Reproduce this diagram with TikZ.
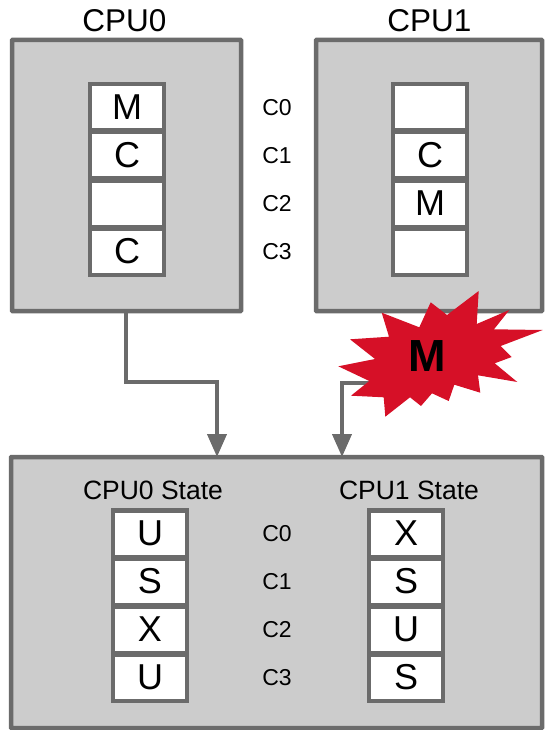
\documentclass[tikz,border=0pt]{standalone}
\usepackage{fontspec}
\setmainfont{Liberation Sans}
\usetikzlibrary{arrows.meta,calc}
\definecolor{edgegray}{HTML}{6B6B6B}
\definecolor{panelgray}{HTML}{CCCCCC}
\definecolor{burstred}{HTML}{D61027}
\tikzset{
  panel/.style={draw=edgegray,fill=panelgray,line width=4.5pt,rounded corners=0.5pt},
  cellbox/.style={draw=edgegray,fill=white,line width=4.5pt,minimum width=74pt,minimum height=46.5pt,inner sep=0pt,font=\fontsize{36}{36}\selectfont},
  rowlab/.style={inner sep=0pt,font=\fontsize{23}{23}\selectfont},
  title/.style={inner sep=0pt,font=\fontsize{31.5}{31.5}\selectfont},
  statetitle/.style={inner sep=0pt,font=\fontsize{26.5}{26.5}\selectfont},
  wire/.style={draw=edgegray,line width=4pt},
  arrowwire/.style={wire,-{Triangle[length=23pt,width=19pt]}}
}
\begin{document}
\begin{tikzpicture}[x=1pt,y=-1pt]
\useasboundingbox (0,0) rectangle (553,730);
\node[panel,minimum width=229pt,minimum height=271pt,inner sep=0pt] (cpu0) at (126.5,175.5) {};
\node[panel,minimum width=226pt,minimum height=271pt,inner sep=0pt] (cpu1) at (429,175.5) {};
\node[panel,minimum width=531pt,minimum height=271pt,inner sep=0pt] (sys) at (276.5,592.5) {};
\node[title] (t0) at (124.5,21) {CPU0};
\node[title] (t1) at (429.5,21) {CPU1};
\foreach \n/\y/\a/\b in {0/107.5/M/,1/155.5/C/C,2/203.5//M,3/251.5/C/}{
  \node[cellbox] (a\n) at (127,\y) {\a};
  \node[cellbox] (b\n) at (430,\y) {\b};
  \node[rowlab] (r\n) at (277,\y) {C\n};
}
\node[statetitle] (s0) at (153,490) {CPU0 State};
\node[statetitle] (s1) at (409,490) {CPU1 State};
\foreach \n/\y/\a/\b in {0/533.5/U/X,1/581.5/S/S,2/629.5/X/U,3/677.5/U/S}{
  \node[cellbox] (c\n) at (150,\y) {\a};
  \node[cellbox] (d\n) at (406,\y) {\b};
  \node[rowlab] (q\n) at (277,\y) {C\n};
}
\coordinate (burst) at (428,383);
\coordinate (tl) at (217,457);
\coordinate (tr) at (342,457);
\draw[arrowwire] (cpu0.south -| 126,0) -- (126,382) -- (217,382) -- (tl);
\draw[arrowwire] (burst) -- (342,383) -- (tr);
\fill[burstred] (478.7,291) -- (476.7,324) -- (509.3,310) -- (494,329.3) -- (542.7,330) -- (500.7,346) -- (511.7,357) -- (494.7,363.3) -- (517.3,382) -- (478,375.3) -- (480.3,392.7) -- (454.3,384.7) -- (448.7,401) -- (432,393.3) -- (421,406) -- (410,397.3) -- (385.3,416.7) -- (383.7,397.3) -- (351,395.7) -- (369.3,381) -- (338.3,366.3) -- (375,359) -- (350,339.3) -- (389,336.7) -- (381.7,312.7) -- (419.3,327.3) -- (430.7,302.3) -- (447,315) -- cycle;
\node[inner sep=0pt,font=\bfseries\fontsize{45}{45}\selectfont,text=black] (m) at (427,356) {M};
\end{tikzpicture}
\end{document}
